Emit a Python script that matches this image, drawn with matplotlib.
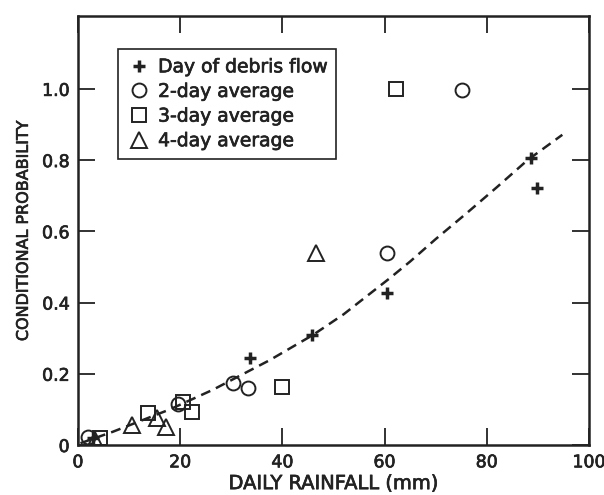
"""Conditional probability of debris flow vs daily rainfall."""
import matplotlib
matplotlib.use("Agg")
import matplotlib.pyplot as plt
import matplotlib.patheffects as pe
from matplotlib.lines import Line2D

plt.rcParams["font.family"] = ["DejaVu Sans"]
INK = "#222222"
BOLDEN = [pe.withStroke(linewidth=0.5, foreground=INK)]

# day of debris flow (+)
day_x = [3.0, 33.6, 45.9, 60.5, 88.6, 89.8]
day_y = [0.02, 0.244, 0.309, 0.427, 0.806, 0.722]

# 2-day average (circles)
d2_x = [2.0, 19.6, 30.3, 33.2, 60.5, 75.2]
d2_y = [0.023, 0.115, 0.174, 0.160, 0.540, 0.997]

# 3-day average (squares)
d3_x = [4.3, 13.7, 20.6, 22.4, 40.0, 62.3]
d3_y = [0.020, 0.090, 0.120, 0.094, 0.163, 1.0]

# 4-day average (triangles)
d4_x = [3.3, 10.5, 15.4, 17.3, 46.6]
d4_y = [0.014, 0.056, 0.076, 0.050, 0.540]

# fitted dashed curve
fit_x = [0.5, 6.8, 18.0, 26.4, 37.5, 46.0, 52.0, 56.0, 61.0, 65.0, 70.0, 76.0, 82.0, 88.0, 94.8]
fit_y = [0.005, 0.037, 0.10, 0.155, 0.238, 0.309, 0.367, 0.412, 0.468, 0.515, 0.578, 0.650, 0.724, 0.800, 0.871]

fig = plt.figure(figsize=(6.04, 4.95), dpi=100)
ax = fig.add_axes([0.129, 0.101, 0.846, 0.867])

ax.plot(fit_x, fit_y, color=INK, linestyle=(0, (4, 2.5)), linewidth=1.8, zorder=2)
ax.plot(d2_x, d2_y, "o", mfc="none", mec=INK, mew=1.4, ms=10, zorder=3)
ax.plot(d3_x, d3_y, "s", mfc="none", mec=INK, mew=1.4, ms=10, zorder=3)
ax.plot(d4_x, d4_y, "^", mfc="none", mec=INK, mew=1.4, ms=12, zorder=3)
ax.plot(day_x, day_y, "+", color=INK, mew=2.5, ms=8, zorder=4)

ax.set_xlim(0, 100)
ax.set_ylim(0, 1.205)
ax.set_xticks([0, 20, 40, 60, 80, 100])
ax.set_xticklabels(["0", "20", "40", "60", "80", "100"])
ax.set_yticks([0, 0.2, 0.4, 0.6, 0.8, 1.0])
ax.set_yticklabels(["0", "0.2", "0.4", "0.6", "0.8", "1.0"])
ax.tick_params(direction="in", length=12, width=1.3, top=True, right=True,
               labelsize=12.5, colors=INK, pad=6)
for s in ax.spines.values():
    s.set_linewidth(1.8)
    s.set_color(INK)

ax.set_xlabel("DAILY RAINFALL (mm)", fontsize=14, color=INK, labelpad=2)
ax.set_ylabel("CONDITIONAL PROBABILITY", fontsize=11.5, color=INK, labelpad=8)

handles = [
    Line2D([], [], marker="+", linestyle="none", color=INK, mew=2.5, ms=8),
    Line2D([], [], marker="o", linestyle="none", mfc="none", mec=INK, mew=1.4, ms=10),
    Line2D([], [], marker="s", linestyle="none", mfc="none", mec=INK, mew=1.4, ms=10),
    Line2D([], [], marker="^", linestyle="none", mfc="none", mec=INK, mew=1.4, ms=12),
]
labels = ["Day of debris flow", "2-day average", "3-day average", "4-day average"]
leg = ax.legend(handles, labels, loc="upper left", bbox_to_anchor=(0.078, 0.923),
                borderaxespad=0, fontsize=13.5, handlelength=1.4, handletextpad=0.3,
                labelspacing=0.3, borderpad=0.45, fancybox=False, framealpha=1,
                edgecolor=INK)
leg.get_frame().set_linewidth(1.2)
for t in leg.get_texts():
    t.set_color(INK)
    t.set_path_effects(BOLDEN)

for t in ax.get_xticklabels() + ax.get_yticklabels():
    t.set_path_effects(BOLDEN)
ax.xaxis.label.set_path_effects(BOLDEN)
ax.yaxis.label.set_path_effects(BOLDEN)

fig.savefig("out.png", dpi=100)
